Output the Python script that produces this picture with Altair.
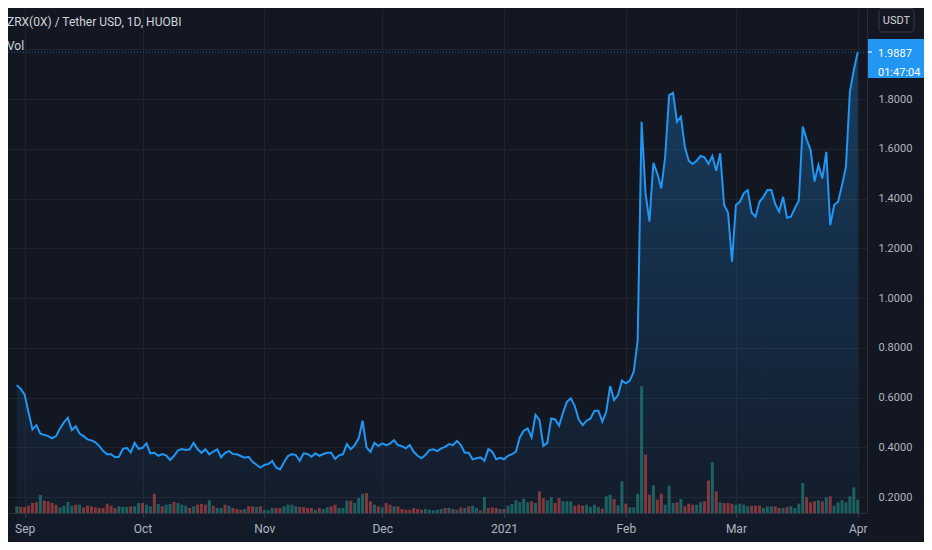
import altair as alt
import pandas as pd

# ---------------- text ----------------
TITLE = "ZRX(0X) / Tether USD, 1D, HUOBI"
VOL_LABEL = "Vol"
CURRENCY = "USDT"
LAST_PRICE = 1.9887
LAST_PRICE_TEXT = "1.9887"
COUNTDOWN = "01:47:04"

# ---------------- data (daily close, USDT) ----------------
START_DATE = "2020-08-30"

PRICE_SEP_DEC = [
    0.650, 0.635, 0.612, 0.540, 0.472, 0.489, 0.455, 0.450, 0.445, 0.436,
    0.445, 0.476, 0.500, 0.519, 0.469, 0.485, 0.455, 0.445, 0.432, 0.428,
    0.420, 0.405, 0.385, 0.372, 0.372, 0.360, 0.362, 0.394, 0.398, 0.380,
    0.418, 0.394, 0.398, 0.416, 0.376, 0.378, 0.366, 0.373, 0.368, 0.349,
    0.365, 0.388, 0.393, 0.389, 0.392, 0.418, 0.393, 0.378, 0.392, 0.372,
    0.383, 0.392, 0.360, 0.378, 0.385, 0.373, 0.372, 0.365, 0.358, 0.362,
    0.342, 0.330, 0.319, 0.329, 0.333, 0.345, 0.319, 0.311, 0.340, 0.365,
    0.373, 0.369, 0.346, 0.376, 0.373, 0.362, 0.376, 0.366, 0.373, 0.378,
    0.378, 0.353, 0.368, 0.372, 0.413, 0.392, 0.409, 0.436, 0.507, 0.400,
    0.382, 0.418, 0.405, 0.416, 0.409, 0.415, 0.429, 0.409, 0.405, 0.396,
    0.409, 0.382, 0.366, 0.356, 0.370, 0.389, 0.392, 0.385, 0.396, 0.402,
    0.413, 0.409, 0.426, 0.409, 0.378, 0.378, 0.352, 0.356, 0.360, 0.346,
    0.393, 0.382, 0.352, 0.358, 0.352, 0.366, 0.373, 0.382,
]
PRICE_JAN = [
    0.440, 0.467, 0.476, 0.440, 0.530, 0.510, 0.406, 0.418, 0.516, 0.512,
    0.487, 0.539, 0.583, 0.597, 0.566, 0.512, 0.489, 0.507, 0.516, 0.547,
    0.547, 0.503, 0.543, 0.646, 0.590, 0.610, 0.668, 0.657, 0.668, 0.704,
    0.830,
]
PRICE_FEB_MAR = [
    1.709, 1.421, 1.307, 1.544, 1.501, 1.441, 1.568, 1.816, 1.825, 1.709,
    1.729, 1.608, 1.552, 1.539, 1.552, 1.571, 1.566, 1.539, 1.571, 1.512,
    1.582, 1.374, 1.343, 1.146, 1.374, 1.387, 1.421, 1.434, 1.343, 1.327,
    1.387, 1.407, 1.434, 1.434, 1.378, 1.347, 1.407, 1.323, 1.327, 1.361,
    1.391, 1.689, 1.638, 1.595, 1.468, 1.535, 1.481, 1.588, 1.293, 1.374,
    1.387, 1.454, 1.528, 1.829, 1.917, 1.9887,
]

# volume (relative units), one bar per day
VOL_SEP_NOV = [
    6.7, 6, 6, 7.3, 10, 11, 18, 12.3, 11.7, 10,
    8.3, 5.7, 7.3, 11, 7.3, 8.3, 8.3, 5.7, 7.3, 6.7,
    5.7, 5, 5, 9.3, 7.3, 5, 6.7, 6, 6, 6.7,
    6.7, 10, 10, 8.3, 6.7, 19.3, 9, 6.7, 8.3, 9,
    11, 10, 8.3, 7.3, 5, 6.7, 8.3, 9, 8.3, 12.7,
    7.3, 5, 5, 8.3, 7.3, 5, 4, 3.3, 4,
    6.7, 6.7, 6, 6.7, 3.3, 2.7, 5, 5, 5, 6.7,
    8.3, 8.3, 6.7, 6, 6,
]
VOL_NOV_JAN = [
    5, 5, 3.3, 5, 4, 5.7, 6.7, 8.3, 5, 5,
    12.3, 12.3, 10, 15, 19.3, 20, 11.7, 8.3, 6.7, 5.7,
    10, 8.3, 6.7, 6.7, 4, 3.3, 3.3, 5, 4,
    3.3, 4, 3.3, 2.7, 3.3, 4, 5, 5, 4, 3.3,
    5.7, 5, 6.7, 7.3, 5, 2.7, 16, 5, 5.7, 5,
    4, 4, 7.3, 9, 12.7, 11, 14.3, 10.7, 11.7, 10,
    21.7, 15, 12.7, 15.7, 10, 15, 11.7, 11.7, 11.7, 7.3, 8.3, 7.3,
]
VOL_JAN_APR = [
    8.3, 6, 8.3, 6, 4.3, 16.7, 18.3, 14, 7.7, 31.7,
    9.3, 5.7, 5.7, 19, 126.7, 58.3, 18.3, 27.7, 13.3, 19.3,
    8.3, 27.3, 10, 10.7, 14, 6.7, 9.3, 8.3, 8.3, 10.7,
    11.7, 32.3, 50.7, 21.7, 10.7, 10, 10, 9.3, 8.3, 9.3,
    8.3, 6.7, 7.3, 7.3, 7.3, 5, 6.7, 6.7, 6.7, 5,
    5, 6, 6.7, 5, 9.3, 30, 15.7, 10.7, 11.7, 12.7,
    11.7, 15.7, 16.7, 7.3, 10.7, 12.7, 10.7, 16.7, 25.7, 13.3,
]
# g = up day (green), r = down day (red)
VOL_DIR = (
    "grrrrrgrrr" "rggggrgrrr" "rrrrrrgggr" "ggrggrgrgg" "rgggrgrrrg"
    "rggrgrrrg" "rrgrgggrrg" "gggrr"
    "rrgrggrrgg" "grgggrrgrg" "rrgrrrrrr" "rgggggrgrg" "rgrggrgrrr"
    "grggggggrg" "rrggrrgggrrr"
    "ggggrggrgg" "rggggrrgrr" "gggrgrrrgg" "rrgrgrrrgg" "ggrrrgggrr"
    "grggggrrrg" "rgrggggggg"
)

MONTH_TICKS = ["2020-09-01", "2020-10-01", "2020-11-01", "2020-12-01",
               "2021-01-01", "2021-02-01", "2021-03-01", "2021-04-01"]
PRICE_TICKS = [0.2, 0.4, 0.6, 0.8, 1.0, 1.2, 1.4, 1.6, 1.8, 2.0]

# ---------------- frames ----------------
price = PRICE_SEP_DEC + PRICE_JAN + PRICE_FEB_MAR
dates = pd.date_range(START_DATE, periods=len(price), freq="D")
pdf = pd.DataFrame({"date": dates, "price": price})

vol = VOL_SEP_NOV + VOL_NOV_JAN + VOL_JAN_APR
vdir = list(VOL_DIR)
n = min(len(vol), len(vdir))
vdf = pd.DataFrame({
    "date": pd.date_range(START_DATE, periods=n, freq="D"),
    "vol": vol[:n],
    "dir": vdir[:n],
})

# ---------------- style ----------------
W, H = 859, 505
RP = 57
BG = "#131722"
GRID = "#1f232e"
SEP = "#2a2e39"
TXT = "#b2b5be"
BLUE = "#2196f3"
FONT = "Roboto, Liberation Sans, sans-serif"

def dt(s):
    y, m, d = [int(p) for p in s.split("-")]
    return alt.DateTime(year=y, month=m, date=d)

xscale = alt.Scale(domain=[alt.DateTime(year=2020, month=8, date=29, hours=1),
                           alt.DateTime(year=2021, month=4, date=2, hours=2)])
pscale = alt.Scale(domain=[0.136, 2.166], nice=False, zero=False)

xaxis = alt.Axis(
    values=[dt(s) for s in MONTH_TICKS],
    labelExpr="month(datum.value) == 0 ? timeFormat(datum.value, '%Y') : timeFormat(datum.value, '%b')",
    title=None, grid=True, gridColor=GRID, domainColor=SEP, ticks=True, tickSize=4,
    tickColor="#363a45", labelPadding=6, labelFont=FONT, labelFontSize=12,
    labelColor=TXT, labelOverlap=False, labelFlush=False,
)
yaxis = alt.Axis(
    orient="right", values=PRICE_TICKS,
    labelExpr="datum.value > 1.9 ? '' : format(datum.value, '.4f')",
    title=None, grid=True, gridColor=GRID, domainColor=SEP, ticks=False, tickSize=0,
    labelPadding=11, labelFont=FONT, labelFontSize=11, labelColor=TXT,
    labelOverlap=False, labelFlush=False,
)

X = alt.X("date:T", scale=xscale, axis=xaxis)

area = alt.Chart(pdf).mark_area(
    color=alt.Gradient(
        gradient="linear", x1=0, x2=0, y1=0, y2=1,
        stops=[alt.GradientStop(offset=0, color="rgba(33,150,243,0.30)"),
               alt.GradientStop(offset=1, color="rgba(33,150,243,0.02)")],
    )
).encode(x=X, y=alt.Y("price:Q", scale=pscale, axis=yaxis), y2=alt.value(H))

volume = alt.Chart(vdf).mark_bar(width=3, opacity=0.5).encode(
    x=X,
    y=alt.Y("vol:Q", scale=alt.Scale(domain=[0, H], nice=False), axis=None),
    color=alt.Color("dir:N", scale=alt.Scale(domain=["g", "r"], range=["#26a69a", "#ef5350"]), legend=None),
)

line = alt.Chart(pdf).mark_line(color=BLUE, strokeWidth=2).encode(
    x=X, y=alt.Y("price:Q", scale=pscale, axis=None)
)

one = pd.DataFrame({"k": [0]})

price_line = alt.Chart(one).mark_rule(color=BLUE, strokeDash=[1, 2], opacity=0.55, strokeWidth=1).encode(
    y=alt.Y("p:Q", scale=pscale, axis=None),
    x=alt.value(0), x2=alt.value(W),
).transform_calculate(p=str(LAST_PRICE))

title_txt = alt.Chart(pd.DataFrame({"t": [TITLE]})).mark_text(
    align="left", baseline="alphabetic", font=FONT, fontSize=12, color="#d1d4dc"
).encode(text="t:N", x=alt.value(-1), y=alt.value(18))

vol_txt = alt.Chart(pd.DataFrame({"t": [VOL_LABEL]})).mark_text(
    align="left", baseline="alphabetic", font=FONT, fontSize=12, color="#d1d4dc"
).encode(text="t:N", x=alt.value(-1), y=alt.value(41.5))

usdt_box = alt.Chart(one).mark_rect(
    cornerRadius=3, fill=BG, stroke="#363a45", strokeWidth=1
).encode(x=alt.value(W + 12), x2=alt.value(W + 47), y=alt.value(0.5), y2=alt.value(24))

usdt_txt = alt.Chart(pd.DataFrame({"t": [CURRENCY]})).mark_text(
    align="center", baseline="middle", font=FONT, fontSize=11, color="#d1d4dc"
).encode(text="t:N", x=alt.value(W + 29.5), y=alt.value(12.5))

price_box = alt.Chart(one).mark_rect(color=BLUE).encode(
    x=alt.value(W + 1), x2=alt.value(W + RP), y=alt.value(31), y2=alt.value(70)
)
price_tick = alt.Chart(one).mark_rule(color="#ffffff", strokeWidth=1).encode(
    x=alt.value(W + 1), x2=alt.value(W + 5), y=alt.value(44)
)
price_txt = alt.Chart(pd.DataFrame({"t": [LAST_PRICE_TEXT, COUNTDOWN], "yy": [49, 68]})).mark_text(
    align="left", baseline="alphabetic", font=FONT, fontSize=11, color="#ffffff"
).encode(text="t:N", x=alt.value(W + 11), y=alt.Y("yy:Q", scale=alt.Scale(domain=[0, H], range=[0, H]), axis=None))

chart = alt.layer(
    area, volume, line, price_line,
    title_txt, vol_txt, usdt_box, usdt_txt, price_box, price_tick, price_txt,
).resolve_scale(y="independent").properties(
    width=W, height=H,
    padding={"left": 0, "top": 0, "right": RP, "bottom": 29},
    autosize=alt.AutoSizeParams(type="none"),
    background=BG,
).configure_view(stroke=None)

chart.save("out.html", embed_options={"renderer": "svg", "actions": False})
